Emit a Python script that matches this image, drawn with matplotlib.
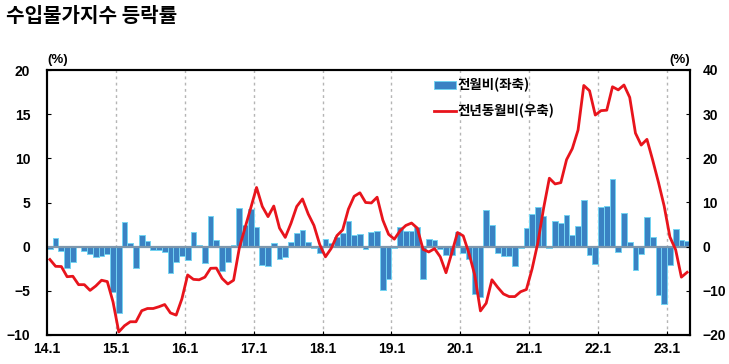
import numpy as np
import matplotlib
matplotlib.use('Agg')
import matplotlib.pyplot as plt
from matplotlib.patches import Patch
from matplotlib.lines import Line2D

plt.rcParams['font.family'] = ['Liberation Sans', 'Noto Sans CJK KR']
KR = ['Noto Sans CJK KR', 'Liberation Sans']

# ---- data: import price index change (%), monthly 2014.1 - 2023.4 ----
years = list(range(14, 24))
tick_labels = [f'{y}.1' for y in years]

# month-on-month change (left axis)
mom_2014 = [-0.25, 0.94, -0.53, -2.4, -1.7, -0.05, -0.5, -0.8, -1.2, -1.05, -0.87, -5.1]
mom_2015 = [-7.55, 2.83, 0.36, -2.45, 1.3, 0.64, -0.38, -0.38, -0.64, -3.0, -1.7, -1.08]
mom_2016 = [-1.5, 1.62, 0.15, -1.8, 3.47, 0.75, -2.72, -1.77, 0.2, 4.37, 2.5, 4.26]
mom_2017 = [2.26, -2.1, -2.2, 0.45, -1.43, -1.2, 0.53, 1.58, 1.85, 0.57, -0.19, -0.68]
mom_2018 = [0.85, 0.47, 1.1, 1.58, 2.94, 1.3, 1.42, -0.26, 1.66, 1.74, -4.9, -3.7]
mom_2019 = [-0.1, 2.2, 1.75, 1.8, 2.2, -3.7, 0.83, 0.75, -0.23, -0.95, -0.9, 1.65]
mom_2020 = [-0.75, -1.4, -5.35, -5.66, 4.1, 2.5, -0.75, -1.06, -1.1, -2.2, -0.1, 2.08]
mom_2021 = [3.7, 4.45, 3.5, -0.2, 2.94, 2.72, 3.58, 1.32, 2.34, 5.28, -0.94, -2.0]
mom_2022 = [4.45, 4.6, 7.63, -0.57, 3.77, 0.57, -2.68, -0.83, 3.4, 1.13, -5.5, -6.5]
mom_2023 = [-2.08, 1.96, 0.75, 0.68]

# year-on-year change (right axis)
yoy_2014 = [-2.9, -4.45, -4.5, -6.8, -6.7, -8.6, -8.6, -9.9, -8.9, -7.6, -7.9, -12.5]
yoy_2015 = [-19.3, -17.9, -17.0, -17.0, -14.5, -14.0, -14.0, -13.6, -13.1, -15.0, -15.5, -11.8]
yoy_2016 = [-6.4, -7.4, -7.5, -6.9, -4.9, -4.85, -7.2, -8.45, -7.6, -0.3, 4.3, 8.8]
yoy_2017 = [13.4, 9.1, 6.8, 9.2, 4.2, 2.1, 5.3, 9.1, 10.8, 7.4, 4.8, 0.5]
yoy_2018 = [-2.3, -0.4, 2.5, 3.8, 8.5, 11.4, 12.2, 10.0, 9.9, 11.2, 6.0, 2.8]
yoy_2019 = [1.7, 3.6, 4.8, 5.35, 4.2, -0.6, -1.2, -0.45, -2.3, -5.9, -1.45, 3.2]
yoy_2020 = [2.45, -1.5, -6.4, -14.55, -12.8, -7.5, -9.2, -10.7, -11.3, -11.3, -10.2, -9.7]
yoy_2021 = [-5.0, 0.9, 8.7, 15.5, 14.2, 14.5, 19.7, 22.2, 26.4, 36.5, 35.3, 29.8]
yoy_2022 = [30.8, 30.9, 36.2, 35.5, 36.6, 33.8, 25.7, 23.0, 24.3, 19.6, 14.6, 9.2]
yoy_2023 = [2.2, -0.7, -6.9, -5.8]

mom = np.array(mom_2014 + mom_2015 + mom_2016 + mom_2017 + mom_2018 +
               mom_2019 + mom_2020 + mom_2021 + mom_2022 + mom_2023)
yoy = np.array(yoy_2014 + yoy_2015 + yoy_2016 + yoy_2017 + yoy_2018 +
               yoy_2019 + yoy_2020 + yoy_2021 + yoy_2022 + yoy_2023)
x = np.arange(len(mom))

BAR_FACE = '#3a82c3'
BAR_EDGE = '#72d4f2'
LINE_RED = '#e8141c'

# ---- figure ----
fig = plt.figure(figsize=(7.29, 3.64), dpi=100)
ax = fig.add_axes([47 / 729, 1 - 335 / 364, 643 / 729, 265 / 364])
ax2 = ax.twinx()

ax.set_xlim(-0.5, len(x) - 0.5)
ax.set_ylim(-10, 20)
ax2.set_ylim(-20, 40)

# year separators
for k in range(1, len(years)):
    ax.axvline(12 * k - 0.5, color='#b5b5b5', linestyle=(0, (2, 2.5)), linewidth=1.0, zorder=0)

ax.bar(x, mom, width=1.0, color=BAR_FACE, edgecolor=BAR_EDGE, linewidth=0.7, zorder=2)
ax.axhline(0, color='#7d97ad', linewidth=1.6, zorder=3)
ax2.plot(x, yoy, color=LINE_RED, linewidth=2.0, zorder=4)

ax.set_xticks([12 * k - 0.5 for k in range(len(years))])
ax.set_xticklabels(tick_labels)
ax.set_yticks([-10, -5, 0, 5, 10, 15, 20])
ax2.set_yticks([-20, -10, 0, 10, 20, 30, 40])

for a in (ax, ax2):
    for s in a.spines.values():
        s.set_linewidth(1.5)
        s.set_color('black')
ax.tick_params(axis='x', direction='in', length=3, width=0.8, pad=5,
               labelsize=10, colors='black')
ax.tick_params(axis='y', direction='in', length=3, width=0.8, pad=12, labelsize=10)
ax2.tick_params(axis='y', direction='in', length=3, width=0.8, pad=9, labelsize=10)
for lab in ax.get_xticklabels() + ax.get_yticklabels() + ax2.get_yticklabels():
    lab.set_fontweight('bold')

fig.text(47 / 729, 1 - 60 / 364, '(%)', fontsize=9.5, fontweight='bold', ha='left', va='center')
fig.text(690 / 729, 1 - 60 / 364, '(%)', fontsize=9.5, fontweight='bold', ha='right', va='center')

fig.text(6 / 729, 1 - 16 / 364, '수입물가지수 등락률', family=KR, fontsize=14.5,
         fontweight='bold', ha='left', va='center')

handles = [Patch(facecolor=BAR_FACE, edgecolor=BAR_EDGE, linewidth=0.7),
           Line2D([0], [0], color=LINE_RED, linewidth=2.0)]
ax2.legend(handles, ['전월비(좌축)', '전년동월비(우축)'], loc='upper left',
           bbox_to_anchor=(0.583, 1.015), frameon=False, handlelength=1.6,
           handleheight=0.6, handletextpad=0.15, labelspacing=0.85,
           prop={'family': KR, 'weight': 'bold', 'size': 9.7})

fig.savefig('out.png', dpi=100)
